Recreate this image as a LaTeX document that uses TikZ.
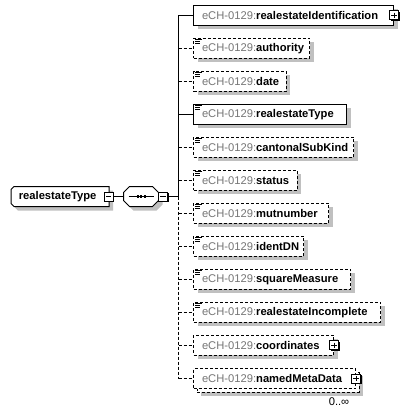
\documentclass[tikz,border=0pt]{standalone}
\usepackage{fontspec}
\setmainfont{Liberation Sans}
\usetikzlibrary{shadows}
\definecolor{shd}{RGB}{192,192,192}
\definecolor{pfx}{RGB}{118,118,118}
\newcommand\docico[1]{%
  \foreach \d/\l in {1.3/4.8,2.8/4.0,4.3/4.0}
    \draw[line width=0.6pt] ([xshift=1.6pt,yshift=-\d pt]#1.north west) -- ++(\l pt,0pt);}
\newcommand\xbtn[2]{%
  \begin{scope}[shift={(#1)}]
    \fill[black] (-3.5,-3.5) rectangle (5.5,5.5);
    \draw[fill=white,solid] (-4.5,-4.5) rectangle (4.5,4.5);
    \draw[solid] (-2.7,0) -- (2.7,0);
    \ifnum#2=1 \draw[solid] (0,-2.7) -- (0,2.7);\fi
  \end{scope}}
\newcommand\pfxname[1]{\mbox{{\color{pfx}eCH-0129:}\textbf{#1}}}
\begin{document}
\begin{tikzpicture}[x=0.75pt,y=-0.75pt,line width=0.75pt,
  every node/.style={font=\fontsize{8.4pt}{10pt}\selectfont},
  elem/.style={draw, fill=white, anchor=west, minimum height=15pt,
    inner xsep=6.375pt, inner ysep=0pt, align=left, text width=#1},
  shad/.style={drop shadow={shadow xshift=3pt, shadow yshift=-3pt, fill=shd, opacity=1}},
  opt/.style={dash pattern=on 2.25pt off 1.5pt},
  plain/.style={draw=none, inner sep=0pt}]
\useasboundingbox (0,0) rectangle (408,414);

% root element
\fill[shd] (18,190.5) -- (113,190.5) -- (113,210.5) -- (18,210.5) -- (15,207.5) -- (15,193.5) -- cycle;
\draw[fill=white] (14,186.5) -- (109,186.5) -- (109,206.5) -- (14,206.5) -- (11,203.5) -- (11,189.5) -- cycle;
\node[plain, anchor=west, minimum width=73.5pt, minimum height=15pt, align=left, text width=70pt] (root) at (16,196.5) {\textbf{realestateType}};

% sequence compositor
\fill[shd] (133.5,190.5) -- (156.5,190.5) -- (162.5,196.5) -- (162.5,204.5) -- (156.5,210.5) -- (133.5,210.5) -- (127.5,204.5) -- (127.5,196.5) -- cycle;
\draw[fill=white] (129.5,186.5) -- (152.5,186.5) -- (158.5,192.5) -- (158.5,200.5) -- (152.5,206.5) -- (129.5,206.5) -- (123.5,200.5) -- (123.5,192.5) -- cycle;
\node[plain, minimum width=26.25pt, minimum height=15pt] (seq) at (141,196.5) {};
\draw (128.5,196.5) -- (154,196.5);
\foreach \cx in {137.8,141.3,144.8} \fill (\cx-1.1,195.1) rectangle (\cx+1.1,197.9);

\coordinate (rm) at (108.5,196.5);
\coordinate (sm) at (163,196.5);
\coordinate (tr) at (178.5,196.5);

% children
\node[elem=137.25pt, shad] (b1) at (193,15.3) {\pfxname{realestateIdentification}};
\node[elem=74.25pt, shad, opt] (b2) at (193,48.3) {\pfxname{authority}};
\node[elem=56.8pt, shad, opt] (b3) at (193,81.3) {\pfxname{date}};
\node[elem=102pt, shad] (b4) at (193,114.3) {\pfxname{realestateType}};
\node[elem=107.25pt, shad, opt] (b5) at (193,147.3) {\pfxname{cantonalSubKind}};
\node[elem=65pt, shad, opt] (b6) at (193,180.3) {\pfxname{status}};
\node[elem=88.5pt, shad, opt] (b7) at (193,213.3) {\pfxname{mutnumber}};
\node[elem=69.75pt, shad, opt] (b8) at (193,246.3) {\pfxname{identDN}};
\node[elem=105pt, shad, opt] (b9) at (193,279.3) {\pfxname{squareMeasure}};
\node[elem=127.5pt, shad, opt] (b10) at (193,312.3) {\pfxname{realestateIncomplete}};
\node[elem=92.25pt, shad, opt] (b11) at (193,345.3) {\pfxname{coordinates}};
\node[elem=108.75pt, shad, opt] (b12back) at (196.5,382) {};
\node[elem=108.75pt, opt] (b12) at (193,378.5) {\pfxname{namedMetaData}};
\node[plain] (occ) at (339,402) {0..∞};

% documentation icons
\foreach \n in {b2,b3,b4,b5,b6,b7,b8,b9,b10} {\docico{\n}}

% connectors
\draw ([xshift=3.375pt]rm) -- (seq.west);
\draw ([xshift=3.375pt]sm) -- (tr);
\draw (tr |- b1.west) -- (tr);
\draw[opt] (tr) -- (tr |- b12.west);
\foreach \n in {b1,b4} {\draw (tr |- \n.west) -- (\n.west);}
\foreach \n in {b2,b3,b5,b6,b7,b8,b9,b10,b11,b12} {\draw[opt] (tr |- \n.west) -- (\n.west);}

% buttons
\xbtn{rm}{0}
\xbtn{sm}{0}
\xbtn{b1.east}{1}
\xbtn{b11.east}{1}
\xbtn{b12.east}{1}
\end{tikzpicture}
\end{document}
